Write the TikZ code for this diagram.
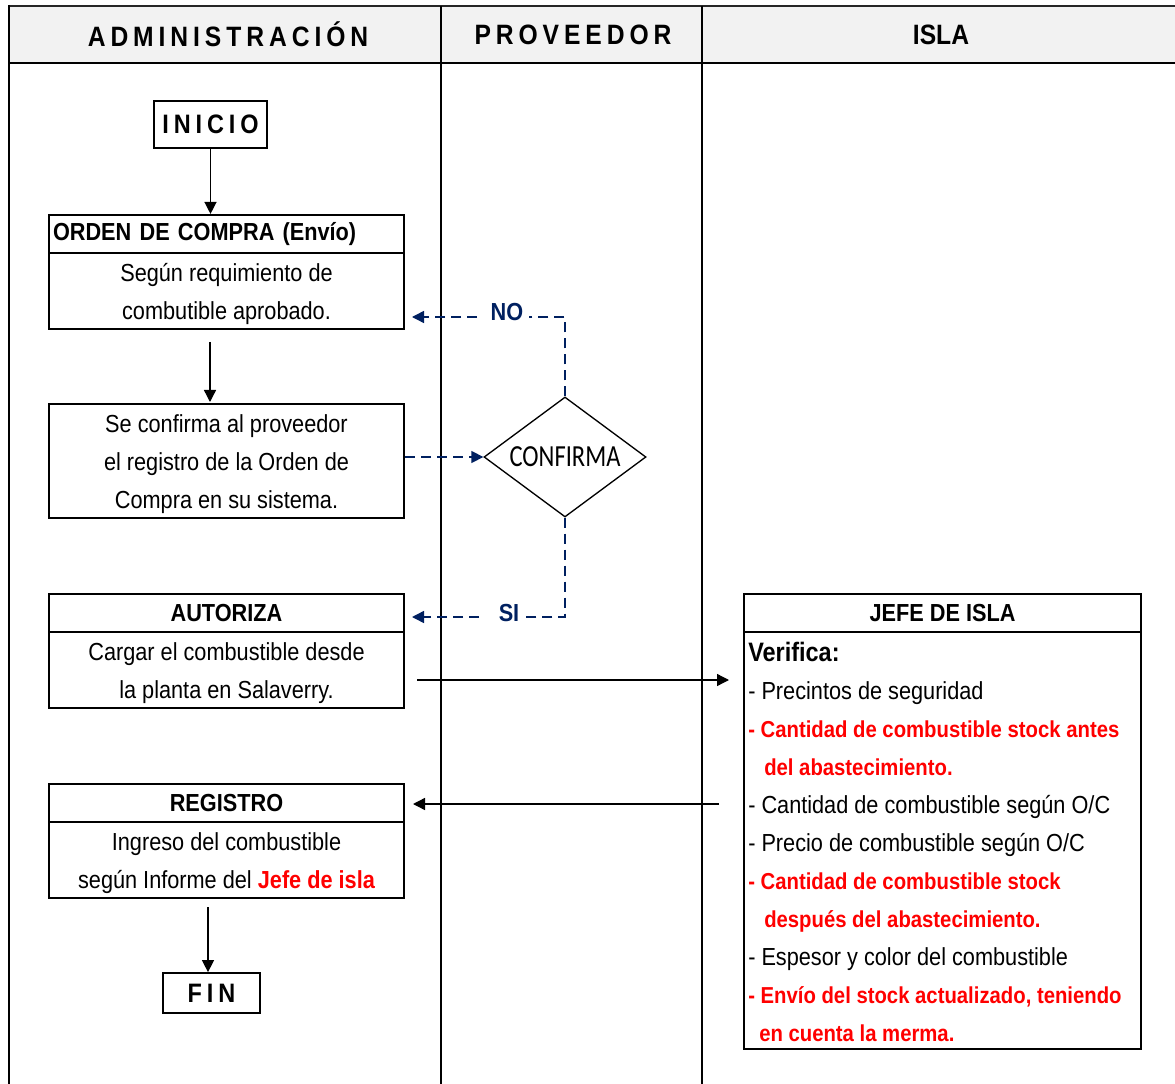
\documentclass[tikz,border=0pt]{standalone}
\usepackage{fontspec}
\setmainfont[FakeStretch=0.88]{Liberation Sans}
\newfontfamily\diafont[FakeStretch=0.8]{Carlito}
\usetikzlibrary{arrows.meta,shapes.geometric,positioning}
\definecolor{navy}{HTML}{002060}
\definecolor{headgray}{HTML}{F2F2F2}
\definecolor{alert}{HTML}{FF0000}
\def\u{0.75pt}
% letter spacing for spaced-out titles
\newcommand\lsp{\hspace{3.7pt}}
\begin{document}
\begin{tikzpicture}[x=0.75pt,y=-0.75pt,
  txt/.style={font=\fontsize{18.5}{28.5}\selectfont},
  bold/.style={font=\fontsize{18.5}{28.5}\selectfont\bfseries},
  box/.style={draw,line width=1.6pt,inner sep=0pt,minimum width=355*\u,align=center},
  headbox/.style={box,minimum height=38*\u,bold},
  bodybox/.style={box,minimum height=76*\u},
  bodytext/.style={txt,align=center,inner sep=0pt,yshift=-2.6pt},
  termbox/.style={draw,line width=1.3pt,inner sep=0pt,font=\fontsize{20}{24}\selectfont\bfseries},
  lane/.style={line width=1.3pt},
  flow/.style={line width=1pt,-{Triangle[length=12*\u,width=12*\u]}},
  navydash/.style={navy,line width=1.1pt,dash pattern=on 7.5pt off 4.5pt},
  dasharrow/.style={navydash,-{Triangle[length=12*\u,width=12*\u]}},
  lanehead/.style={font=\fontsize{21}{24}\selectfont\bfseries},
  item/.style={anchor=base west,inner sep=0pt,txt},
  ritem/.style={anchor=base west,inner sep=0pt,font=\fontsize{17.3}{28.5}\selectfont\bfseries,text=alert}]
\useasboundingbox (0,0) rectangle (1175,1084);

% swimlane header band and lane borders
\fill[headgray] (9,6) rectangle (1175,63);
\draw[line width=2pt,black!85] (9,6) -- (1175,6);
\draw[line width=2pt] (9,63) -- (1175,63);
\draw[lane] (9,5) -- (9,1084);
\draw[lane] (441,6) -- (441,1084);
\draw[lane] (702,6) -- (702,1084);
\node[lanehead] (hAdm) at (228,34) {A\lsp D\lsp M\lsp I\lsp N\lsp I\lsp S\lsp T\lsp R\lsp A\lsp C\lsp I\lsp Ó\lsp N};
\node[lanehead] (hProv) at (573,35) {P\lsp R\lsp O\lsp V\lsp E\lsp E\lsp D\lsp O\lsp R};
\node[lanehead] (hIsla) at (941,35) {ISLA};

% administration lane
\node[termbox,minimum width=113*\u,minimum height=47*\u] (inicio) at (210.5,124.5) {I\lsp N\lsp I\lsp C\lsp I\lsp O};

\node[headbox,text width=347*\u,align=left] (ordenH) at (226.5,234) {ORDEN DE COMPRA (Envío)};
\node[bodybox] (ordenB) at (226.5,291) {};
\node[bodytext] (ordenT) at (ordenB.center) {Según requimiento de\\combutible aprobado.};

\node[box,minimum height=114*\u] (confB) at (226.5,461) {};
\node[bodytext] (confT) at (confB.center) {Se confirma al proveedor\\el registro de la Orden de\\Compra en su sistema.};

\node[headbox] (autH) at (226.5,613) {AUTORIZA};
\node[bodybox] (autB) at (226.5,670) {};
\node[bodytext] (autT) at (autB.center) {Cargar el combustible desde\\la planta en Salaverry.};

\node[headbox] (regH) at (226.5,803) {REGISTRO};
\node[bodybox] (regB) at (226.5,860) {};
\node[bodytext] (regT) at (regB.center) {Ingreso del combustible\\según Informe del {\bfseries\color{alert}Jefe de isla}};

\node[termbox,minimum width=97*\u,minimum height=40*\u] (fin) at (211.5,993) {F\lsp I\lsp N};

% supplier lane
\node[draw,line width=1pt,shape=diamond,aspect=1.35,inner sep=0pt,minimum width=162*\u,minimum height=120*\u,
      font=\diafont\fontsize{23}{26}\selectfont] (conf) at (565,457) {CONFIRMA};
\node[bold,text=navy,inner sep=1pt] (no) at (507,312) {NO};
\node[bold,text=navy,inner sep=1pt] (si) at (509,613) {SI};

% island lane
\node[headbox,minimum width=397*\u] (jefeH) at (942.5,613) {JEFE DE ISLA};
\node[box,minimum width=397*\u,minimum height=417*\u] (jefeB) at (942.5,840.5) {};
\node[item,font=\fontsize{20}{28.5}\selectfont\bfseries] (v0) at (748,661) {Verifica:};
\node[item] (v1) at (748,699) {- Precintos de seguridad};
\node[ritem] (v2) at (748,737) {- Cantidad de combustible stock antes};
\node[ritem] (v3) at (764,775) {del abastecimiento.};
\node[item] (v4) at (748,813) {- Cantidad de combustible según O/C};
\node[item] (v5) at (748,851) {- Precio de combustible según O/C};
\node[ritem] (v6) at (748,889) {- Cantidad de combustible stock};
\node[ritem] (v7) at (764,927) {después del abastecimiento.};
\node[item] (v8) at (748,965) {- Espesor y color del combustible};
\node[ritem] (v9) at (748,1003) {- Envío del stock actualizado, teniendo};
\node[ritem] (v10) at (759,1041) {en cuenta la merma.};

% connector end points
\coordinate (aOut) at (417,680);
\coordinate (aIn) at (729,680);
\coordinate (rOut) at (719,804);
\coordinate (rIn) at (413,804);
\coordinate (noR) at (529,317);
\coordinate (noL) at (477,317);
\coordinate (noTip) at (412,317);
\coordinate (siR) at (525,617);
\coordinate (siL) at (479,617);
\coordinate (siTip) at (412,617);
\coordinate (ordenOut) at (210,342);
\coordinate (confIn) at (210,402);
\coordinate (regOut) at (208,907);

% solid flow
\draw[flow] (inicio.south) -- (inicio.south |- ordenH.north);
\draw[flow] (ordenOut) -- (confIn);
\draw[flow] (aOut) -- (aIn);
\draw[flow] (rOut) -- (rIn);
\draw[flow] (regOut) -- (regOut |- fin.north);

% dashed decision branches
\draw[dasharrow] (confB.east |- conf.west) -- (conf.west);
\draw[navydash] (conf.north) |- (noR);
\draw[dasharrow] (noL) -- (noTip);
\draw[navydash] (conf.south) |- (siR);
\draw[dasharrow] (siL) -- (siTip);
\end{tikzpicture}
\end{document}
